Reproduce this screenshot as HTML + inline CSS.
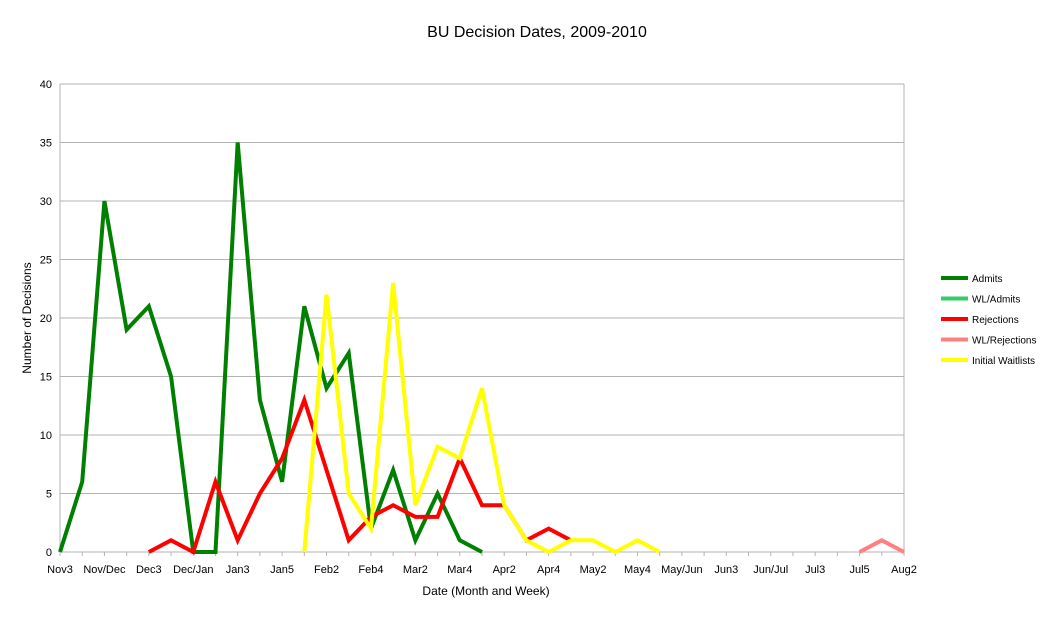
<!DOCTYPE html>
<html><head><meta charset="utf-8"><style>
body{margin:0;background:#fff;font-family:"Liberation Sans",sans-serif;}
</style></head><body>
<svg width="1056" height="632" xmlns="http://www.w3.org/2000/svg">
<text x="537" y="37" font-size="16" text-anchor="middle">BU Decision Dates, 2009-2010</text>
<g id="grid"></g><g id="series"></g><g id="legend"></g>
<text x="486" y="595" font-size="12" text-anchor="middle">Date (Month and Week)</text>
<text transform="translate(31,318) rotate(-90)" font-size="12" text-anchor="middle">Number of Decisions</text>
</svg>
<script>
const xLabels=["Nov3","Nov/Dec","Dec3","Dec/Jan","Jan3","Jan5","Feb2","Feb4","Mar2","Mar4","Apr2","Apr4","May2","May4","May/Jun","Jun3","Jun/Jul","Jul3","Jul5","Aug2"];
const yTicks=[0,5,10,15,20,25,30,35,40];
const seriesNames=["Admits","WL/Admits","Rejections","WL/Rejections","Initial Waitlists"];
const seriesColors=["#008000","#33cc66","#ff0000","#ff8080","#ffff00"];
// [startIndex, values...]
const admits=[0,[0,6,30,19,21,15,0,0,35,13,6,21,14,17,2,7,1,5,1,0]];
const wlAdmits=[0,[]];
const rejections=[4,[0,1,0,6,1,5,8,13,7,1,3,4,3,3,8,4,4,1,2,1]];
const wlRejections=[36,[0,1,0]];
const waitlists=[11,[0,22,5,2,23,4,9,8,14,4,1,0,1,1,0,1,0]];
const NS="http://www.w3.org/2000/svg";
const x0=60,x1=904,y0=552,y1=84,nPts=39;
const xs=i=>x0+i*(x1-x0)/(nPts-1);
const ys=v=>y0-v*(y0-y1)/40;
function mk(t,a,p){const e=document.createElementNS(NS,t);for(const k in a)e.setAttribute(k,a[k]);p.appendChild(e);return e;}
const grid=document.getElementById('grid');
yTicks.forEach(v=>{
  const l=mk('line',{x1:x0,x2:x1,y1:ys(v),y2:ys(v),stroke:'#b3b3b3','stroke-width':1},grid);
  
  
  const t=mk('text',{x:x0-8,y:ys(v)+4,'font-size':11,'text-anchor':'end'},grid);t.textContent=v;
  
  
});
mk('line',{x1:x1,x2:x1,y1:y1,y2:y0,stroke:'#b3b3b3'},grid);
mk('line',{x1:x0,x2:x0,y1:y1,y2:y0,stroke:'#b3b3b3'},grid);
for(let i=0;i<nPts;i++)mk('line',{x1:xs(i),x2:xs(i),y1:y0,y2:y0+4,stroke:'#b3b3b3'},grid);
xLabels.forEach((s,j)=>{
  const t=mk('text',{x:xs(j*2),y:y0+21,'font-size':11,'text-anchor':'middle'},grid);t.textContent=s;
  
  
});
const sg=document.getElementById('series');
[admits,wlAdmits,rejections,wlRejections,waitlists].forEach((s,k)=>{
  if(!s[1].length)return;
  const pts=s[1].map((v,i)=>xs(s[0]+i)+','+ys(v)).join(' ');
  const p=mk('polyline',{points:pts,fill:'none',stroke:seriesColors[k],'stroke-width':4,'stroke-linejoin':'miter'},sg);
  
  
});
const lg=document.getElementById('legend');
seriesNames.forEach((n,k)=>{
  const y=278+k*20.5;
  const g=mk('g',{},lg);
  
  
  mk('line',{x1:941,x2:968,y1:y,y2:y,stroke:seriesColors[k],'stroke-width':4},g);
  const t=mk('text',{x:972,y:y+4,'font-size':10},g);t.textContent=n;
});
</script>
</body></html>
